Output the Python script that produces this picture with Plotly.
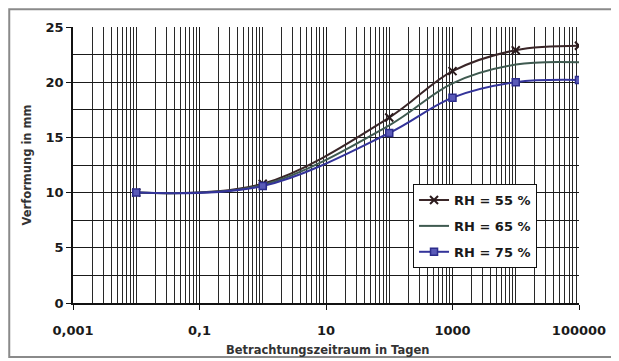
import plotly.graph_objects as go

days = [0.01, 1, 100, 1000, 10000, 100000]
rh55 = [10.0, 10.8, 16.8, 21.0, 22.9, 23.3]
rh65 = [10.0, 10.7, 16.1, 19.9, 21.6, 21.8]
rh75 = [10.0, 10.6, 15.4, 18.6, 20.0, 20.2]
series_names = ["RH = 55 %", "RH = 65 %", "RH = 75 %"]
x_tickvals = [0.001, 0.1, 10, 1000, 100000]
x_ticktext = ["0,001", "0,1", "10", "1000", "100000"]
y_tickvals = [0, 5, 10, 15, 20, 25]
x_title = "Betrachtungszeitraum in Tagen"
y_title = "Verformung in mm"

FONT = "DejaVu Sans"

fig = go.Figure()
fig.add_trace(go.Scatter(
    x=days, y=rh55, name=series_names[0], legendgroup="a",
    mode="lines+markers", line=dict(color="#3a2628", width=2, shape="spline", smoothing=1),
    marker=dict(symbol="x-thin", size=8, line=dict(color="#2a1a1c", width=2)),
))
fig.add_trace(go.Scatter(
    x=days, y=rh65, name=series_names[1], legendgroup="b",
    mode="lines", line=dict(color="#3f5a50", width=2, shape="spline", smoothing=1),
))
fig.add_trace(go.Scatter(
    x=days, y=rh75, name=series_names[2], legendgroup="c",
    mode="lines+markers", line=dict(color="#34349a", width=2, shape="spline", smoothing=1),
    marker=dict(symbol="square", size=7, color="#5a5ab8", line=dict(color="#2c2c8c", width=1.5)),
))

# page body has an 8px default margin, so the figure is sized/offset to compensate
fig.update_layout(
    width=611, height=353,
    margin=dict(l=65, r=40, t=19, b=58),
    paper_bgcolor="white", plot_bgcolor="white",
    font=dict(family=FONT, size=13, color="#1a1a1a", weight="bold"),
    separators=", ",
    showlegend=True,
    legend=dict(
        x=0.672, y=0.431, xanchor="left", yanchor="top",
        bordercolor="#111", borderwidth=1, bgcolor="white",
        font=dict(family=FONT, size=13, color="#1a1a1a", weight="bold"),
        tracegroupgap=6, itemwidth=30,
    ),
    xaxis=dict(
        type="log", range=[-3, 5],
        tickmode="array", tickvals=x_tickvals, ticktext=x_ticktext,
        showgrid=True, gridcolor="#1a1a1a", gridwidth=1,
        minor=dict(dtick="D1", showgrid=True, gridcolor="#282828", gridwidth=1, ticks=""),
        ticks="outside", ticklen=5, tickcolor="#111", ticklabelstandoff=10,
        showline=True, linecolor="#111", linewidth=1.5, mirror=False,
        zeroline=False, automargin=False,
    ),
    yaxis=dict(
        range=[0, 25], tickvals=y_tickvals,
        showgrid=True, gridcolor="#1a1a1a", gridwidth=1,
        minor=dict(dtick=2.5, showgrid=True, gridcolor="#1a1a1a", gridwidth=1, ticks=""),
        ticks="outside", ticklen=5, tickcolor="#111",
        showline=True, linecolor="#111", linewidth=1.5,
        title=dict(text=y_title, standoff=12,
                   font=dict(family=FONT, size=11.5, color="#333", weight="bold")),
        zeroline=False,
    ),
    annotations=[dict(text=x_title, xref="paper", yref="paper", x=0.503, y=-0.170,
                      xanchor="center", yanchor="middle", showarrow=False,
                      font=dict(family=FONT, size=11.5, color="#333", weight="bold"))],
    shapes=[dict(type="rect", xref="paper", yref="paper",
                 x0=-0.126, x1=1.071, y0=-0.196, y1=1.064,
                 line=dict(color="#8a8a8a", width=2), layer="below")],
)

fig.write_html("out.html")
